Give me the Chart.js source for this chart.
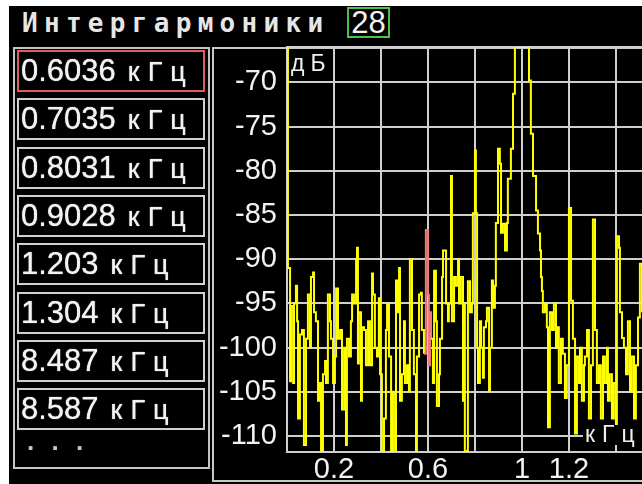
<!DOCTYPE html>
<html>
<head>
<meta charset="utf-8">
<script src="https://cdn.jsdelivr.net/npm/chart.js@4/dist/chart.umd.min.js"></script>
<style>
  html, body { margin: 0; padding: 0; background: #fff; width: 642px; height: 484px; overflow: hidden; }
  #screen { position: absolute; left: 9px; top: 6px; width: 633px; height: 478px; background: #000; }
  .abs { position: absolute; box-sizing: border-box; white-space: nowrap; }
  #title { left: 22px; top: 10px; font: bold 26px "DejaVu Sans Mono"; letter-spacing: 6.3px; color: #e6e6e6; line-height: 26px; }
  #count { left: 347px; top: 7px; width: 43px; height: 31px; border: 2px solid #4cc24c; color: #f4f4f4;
           font: 31px "Liberation Sans"; line-height: 27px; text-align: center; }
  #list { left: 13px; top: 47px; width: 197px; height: 422px; border: 2px solid #c4c4c4; }
  .item { left: 17px; width: 188px; height: 42px; border: 2px solid #d0d0d0; color: #f2f2f2;
          font: 31px "Liberation Sans"; line-height: 38px; padding-left: 2px; text-shadow: 0 0 1px #fff; }
  .item.sel { border-color: #d86060; }
  .unit { font-size: 27px; letter-spacing: 8px; margin-left: 12px; }
  #more { left: 27px; top: 428px; font: bold 26px "Liberation Sans"; line-height: 26px; letter-spacing: 5px; color: #c8c8c8; }
  #frame { left: 212px; top: 47px; width: 440px; height: 435px; border: 2px solid #c8c8c8; }
  #chart { position: absolute; left: 0; top: 0; }
  .lbl { position: absolute; color: #f0f0f0; font: 23px "Liberation Sans"; letter-spacing: 6px; z-index: 2; white-space: nowrap; }
  #db { left: 291px; top: 52px; line-height: 23px; }
  #khz { left: 583px; top: 425px; height: 20px; width: 60px; line-height: 19px; background: #000; padding-left: 2px; letter-spacing: 7px; }
</style>
</head>
<body>
<div id="screen"></div>
<div class="abs" id="title">Интергармоники</div>
<div class="abs" id="count">28</div>
<div class="abs" id="list"></div>
<div class="abs" id="frame"></div>
<canvas id="chart" width="642" height="484"></canvas>
<div class="lbl" id="db">дБ</div>
<div class="lbl" id="khz">кГц</div>
<script>
// interharmonic list (kHz)
const interFreqs = ["0.6036", "0.7035", "0.8031", "0.9028", "1.203", "1.304", "8.487", "8.587"];
const selectedIndex = 0;
const selectedBand = [0.585, 0.612];

// axis ticks
const yTicks = [-70, -75, -80, -85, -90, -95, -100, -105, -110];
const xGrid = [0, 0.2, 0.4, 0.6, 0.8, 1, 1.2, 1.4];
const xLabelAt = [0.2, 0.6, 1, 1.2];
const xLabelText = ["0.2", "0.6", "1", "1.2"];

// spectrum
const freqKHz = [
  0.000, 0.004, 0.013, 0.017, 0.026, 0.030, 0.038, 0.043, 0.047, 0.055,
  0.064, 0.072, 0.081, 0.085, 0.089, 0.098, 0.102, 0.111, 0.115, 0.123,
  0.132, 0.140, 0.145, 0.153, 0.162, 0.166, 0.174, 0.183, 0.187, 0.196,
  0.204, 0.209, 0.217, 0.226, 0.234, 0.243, 0.251, 0.255, 0.264, 0.272,
  0.277, 0.285, 0.294, 0.298, 0.302, 0.306, 0.315, 0.319, 0.328, 0.336,
  0.345, 0.353, 0.362, 0.366, 0.374, 0.383, 0.391, 0.396, 0.404, 0.413,
  0.421, 0.426, 0.434, 0.443, 0.451, 0.460, 0.464, 0.472, 0.477, 0.481,
  0.489, 0.498, 0.502, 0.511, 0.519, 0.523, 0.532, 0.540, 0.549, 0.553,
  0.562, 0.570, 0.574, 0.583, 0.591, 0.600, 0.604, 0.609, 0.613, 0.621,
  0.626, 0.634, 0.638, 0.647, 0.651, 0.660, 0.664, 0.672, 0.677, 0.685,
  0.689, 0.698, 0.702, 0.711, 0.719, 0.728, 0.732, 0.740, 0.749, 0.753,
  0.757, 0.766, 0.770, 0.779, 0.787, 0.791, 0.800, 0.804, 0.809, 0.813,
  0.821, 0.826, 0.834, 0.838, 0.847, 0.851, 0.860, 0.864, 0.872, 0.877,
  0.885, 0.889, 0.898, 0.906, 0.911, 0.919, 0.928, 0.936, 0.940, 0.953,
  0.962, 0.970, 1.026, 1.030, 1.038, 1.047, 1.060, 1.068, 1.077, 1.081,
  1.085, 1.089, 1.098, 1.106, 1.111, 1.119, 1.128, 1.136, 1.145, 1.149,
  1.157, 1.166, 1.174, 1.183, 1.191, 1.200, 1.209, 1.217, 1.226, 1.234,
  1.243, 1.247, 1.255, 1.264, 1.268, 1.277, 1.285, 1.294, 1.302, 1.311,
  1.319, 1.328, 1.336, 1.345, 1.353, 1.362, 1.366, 1.374, 1.383, 1.391,
  1.400, 1.404, 1.413, 1.417, 1.426, 1.434, 1.443, 1.451, 1.460, 1.468,
  1.477, 1.485, 1.494, 1.502, 1.511
];
const levelDb = [
  -66, -91, -103.8, -95.3, -104, -95, -93, -97, -108, -98.5,
  -98, -111, -99, -99, -94, -100, -92, -91.5, -96, -97,
  -106, -104, -111.7, -103, -101.5, -104, -94, -97, -99, -104,
  -101, -93.3, -99, -98, -107, -100, -111, -99, -101, -97,
  -94, -95, -90, -88.7, -101.8, -96, -106, -97.7, -98, -102,
  -97, -102, -91.6, -94, -100, -101, -94.4, -103, -112, -108,
  -98, -95, -101, -112, -105, -112, -92.4, -96, -91, -106,
  -103, -97, -104, -102, -105, -90, -98, -103, -112, -101,
  -94, -93.8, -98, -100.7, -86.7, -94, -102, -96, -99, -104,
  -91.3, -97, -106.6, -103, -99, -92, -89, -89, -95, -97,
  -95, -80.6, -97, -92, -93, -90, -95, -92, -106, -95,
  -112, -111.7, -92.5, -96, -95, -84.8, -77.7, -84.8, -100, -104,
  -97, -100, -103.4, -97.7, -97, -95.5, -104.9, -100, -92.4, -95.5,
  -93, -85.9, -77.5, -79.2, -87, -86, -89, -85.9, -80.9, -77.5,
  -71.3, -66, -66, -69.8, -75.8, -80.6, -84.5, -87.1, -89, -92,
  -93.6, -96, -95, -97.7, -109, -96, -98, -95, -100, -97.7,
  -104, -99, -100.7, -105.7, -102, -84.2, -94.7, -99, -109.7, -101,
  -104, -100, -106, -102, -101, -98, -108, -102, -85.5, -98,
  -104, -102, -108, -101, -104, -100, -106, -103, -108, -104,
  -109, -87.4, -88.7, -96, -98.9, -100, -103, -97, -105, -101,
  -108, -102, -96.6, -90.5, -96
];

// left list
const list = document.body;
interFreqs.forEach((f, i) => {
  const d = document.createElement("div");
  d.className = "abs item" + (i === selectedIndex ? " sel" : "");
  d.style.top = Math.round(50 + i * 48.3) + "px";
  d.innerHTML = f + '<span class="unit">кГц</span>';
  list.appendChild(d);
});
const more = document.createElement("div");
more.className = "abs";
more.id = "more";
more.textContent = ". . .";
list.appendChild(more);

const GRID = "#cfcfcf";
const TEXT = "#f2f2f2";

// top border of the plot
const topLine = {
  id: "topLine",
  beforeDatasetsDraw(c) {
    const a = c.chartArea, g = c.ctx;
    g.save();
    g.strokeStyle = GRID;
    g.lineWidth = 2;
    g.beginPath();
    g.moveTo(a.left, a.top);
    g.lineTo(a.right, a.top);
    g.stroke();
    g.restore();
  }
};

function inBand(ctx) {
  return ctx.p1.parsed.x > selectedBand[0] && ctx.p0.parsed.x < selectedBand[1];
}

new Chart(document.getElementById("chart"), {
  type: "line",
  data: {
    datasets: [{
      data: freqKHz.map((f, i) => ({ x: f, y: levelDb[i] })),
      borderColor: "#ffff00",
      borderWidth: 2,
      pointRadius: 0,
      stepped: true,
      segment: { borderColor: ctx => inBand(ctx) ? "#f07a7a" : "#ffff00" }
    }]
  },
  options: {
    responsive: false,
    animation: false,
    events: [],
    layout: { padding: { left: 212, top: 47, right: 0, bottom: 0 } },
    plugins: { legend: { display: false }, tooltip: { enabled: false } },
    scales: {
      x: {
        type: "linear",
        min: 0,
        max: 1.511,
        afterBuildTicks: s => { s.ticks = xGrid.map(v => ({ value: v })); },
        afterFit: s => { s.height = 32; },
        grid: { color: GRID, lineWidth: 2, drawTicks: false },
        border: { color: GRID, width: 2 },
        ticks: {
          padding: 1,
          color: TEXT,
          font: { family: "Liberation Sans", size: 29 },
          maxRotation: 0,
          autoSkip: false,
          callback: v => {
            const i = xLabelAt.findIndex(a => Math.abs(a - v) < 1e-6);
            return i < 0 ? "" : xLabelText[i];
          }
        }
      },
      y: {
        min: -111.8,
        max: -66,
        afterBuildTicks: s => { s.ticks = yTicks.map(v => ({ value: v })); },
        afterFit: s => { s.width = 75; },
        grid: { color: GRID, lineWidth: 2, drawTicks: false },
        border: { color: GRID, width: 2 },
        ticks: {
          padding: 10,
          color: TEXT,
          font: { family: "Liberation Sans", size: 29 },
          callback: v => String(v)
        }
      }
    }
  },
  plugins: [topLine]
});
</script>
</body>
</html>
